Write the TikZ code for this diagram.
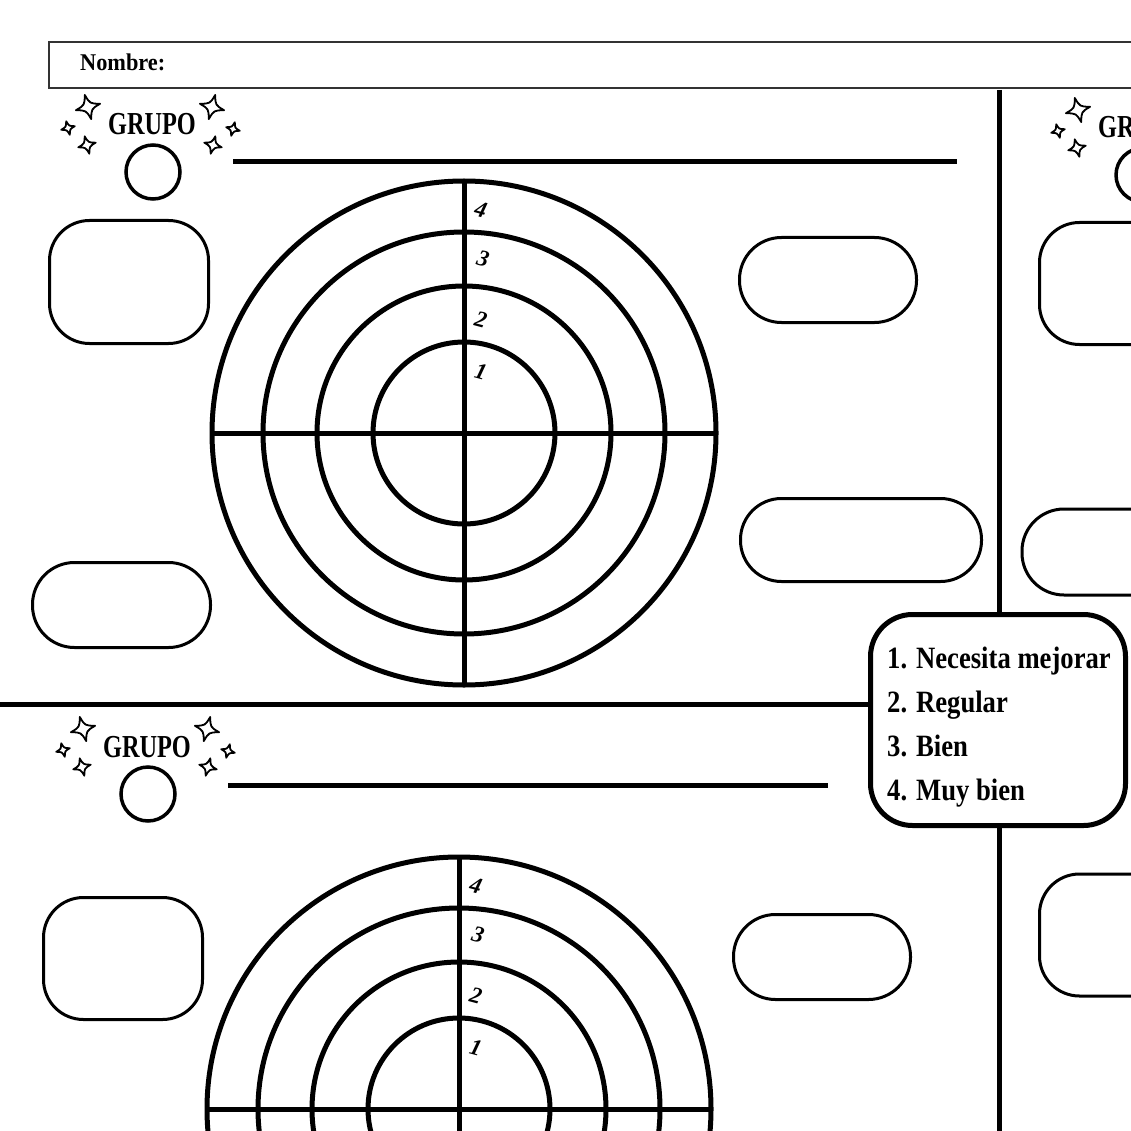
\documentclass[tikz,border=0pt]{standalone}
\usepackage{fontspec}
\usepackage{graphicx}
\setmainfont{Liberation Serif}
\usetikzlibrary{calc}
\tikzset{
  thickln/.style={line width=5pt, line cap=butt},
  ring/.style={line width=5pt},
  slot/.style={draw, line width=3pt, inner sep=0pt, fill=white},
  grp/.style={inner sep=0pt, anchor=base, font=\bfseries\fontsize{32}{32}\selectfont},
  smallcirc/.style={line width=3.5pt},
  numlab/.style={inner sep=0pt, font=\bfseries\itshape\fontsize{23}{23}\selectfont},
  leg/.style={inner sep=0pt, anchor=base west, font=\bfseries\fontsize{31}{31}\selectfont},
  sparkle/.pic={\draw[line width=1.8pt, line join=round]
    (0,-1) .. controls (0.22,-0.22) .. (1,0)
           .. controls (0.22,0.22) .. (0,1)
           .. controls (-0.22,0.22) .. (-1,0)
           .. controls (-0.22,-0.22) .. cycle;}
}
\newcommand\grphead[3]{%
  \begin{scope}[shift={(#2,#3)}]
    \node[grp] (#1g) at (0,0) {\scalebox{0.76}[1]{GRUPO}};
    \node[circle, draw, smallcirc, minimum size=54pt, inner sep=0pt] (#1c) at (1,37) {};
    \pic[rotate=15, scale=12.5] at (-64,-28) {sparkle};
    \pic[rotate=15, scale=7] at (-84,-7) {sparkle};
    \pic[rotate=15, scale=9] at (-65,10) {sparkle};
    \pic[rotate=-15, scale=12.5] at (60,-28) {sparkle};
    \pic[rotate=-15, scale=7] at (81,-6) {sparkle};
    \pic[rotate=-15, scale=9] at (61,10) {sparkle};
  \end{scope}}
\newcommand\target[3]{%
  \coordinate (#1) at (#2,#3);
  \foreach \r in {252,201,147,91} \draw[ring] (#1) circle[radius=\r];
  \draw[ring] ($(#1)+(-252,0)$) -- ($(#1)+(252,0)$);
  \draw[ring] ($(#1)+(0,-252)$) -- ($(#1)+(0,252)$);
  \node[numlab, rotate=-15] (#1n4) at ($(#1)+(17,-223)$) {4};
  \node[numlab, rotate=-15] (#1n3) at ($(#1)+(19,-174)$) {3};
  \node[numlab, rotate=-15] (#1n2) at ($(#1)+(17,-113)$) {2};
  \node[numlab, rotate=-15] (#1n1) at ($(#1)+(17,-61)$) {1};
}
\begin{document}
\begin{tikzpicture}[x=1pt,y=-1pt]
\useasboundingbox (0,0) rectangle (1131,1131);
\clip (0,0) rectangle (1131,1131);
\fill[white] (0,0) rectangle (1131,1131);
% name box
\node[draw=black!80, line width=1.6pt, anchor=north west, minimum width=1120pt, minimum height=46pt, inner sep=0pt] (namebox) at (48,41) {};
\node[inner sep=0pt, anchor=base west, font=\bfseries\fontsize{24}{24}\selectfont] (nombre) at (80,71) {\scalebox{0.93}[1]{Nombre:}};
% dividers
\coordinate (vtop) at (999,90);
\coordinate (vbot) at (999,1140);
\draw[thickln] (vtop) -- (vbot);
\coordinate (hl) at (-5,704);
\coordinate (hr) at (990,704);
\draw[thickln] (hl) -- (hr);
% headers
\grphead{A}{152}{135}
\grphead{B}{147}{757}
\grphead{C}{1142}{138}
% long lines
\coordinate (l1a) at (233,162); \coordinate (l1b) at (957,162);
\draw[thickln] (l1a) -- (l1b);
\coordinate (l2a) at (228,785); \coordinate (l2b) at (828,785);
\draw[thickln] (l2a) -- (l2b);
% targets
\target{T1}{464}{433}
\target{T2}{459}{1109}
% boxes
\node[slot, minimum width=159pt, minimum height=123pt, rounded corners=40pt] (bA) at (129,282) {};
\node[slot, minimum width=178pt, minimum height=85pt, rounded corners=42pt] (bB) at (121.5,605) {};
\node[slot, minimum width=177pt, minimum height=85pt, rounded corners=42pt] (bC) at (828,280) {};
\node[slot, minimum width=241pt, minimum height=83pt, rounded corners=41pt] (bD) at (861,540) {};
\node[slot, minimum width=159pt, minimum height=122pt, rounded corners=40pt] (bE) at (1119,283.5) {};
\node[slot, minimum width=178pt, minimum height=86pt, rounded corners=42pt] (bF) at (1111,552) {};
\node[slot, minimum width=159pt, minimum height=122pt, rounded corners=40pt] (bG) at (1119,935) {};
\node[slot, minimum width=159pt, minimum height=122pt, rounded corners=40pt] (bH) at (123,958.5) {};
\node[slot, minimum width=177pt, minimum height=85pt, rounded corners=42pt] (bI) at (822,957) {};
% legend
\node[draw, line width=5pt, fill=white, rounded corners=42pt, minimum width=255pt, minimum height=211pt, inner sep=0pt] (legend) at (998,720) {};
\node[leg] (leg1) at (887,668) {\scalebox{0.86}[1]{1. Necesita mejorar}};
\node[leg] (leg2) at (887,712) {\scalebox{0.86}[1]{2. Regular}};
\node[leg] (leg3) at (887,756) {\scalebox{0.86}[1]{3. Bien}};
\node[leg] (leg4) at (887,800) {\scalebox{0.86}[1]{4. Muy bien}};
\end{tikzpicture}
\end{document}
